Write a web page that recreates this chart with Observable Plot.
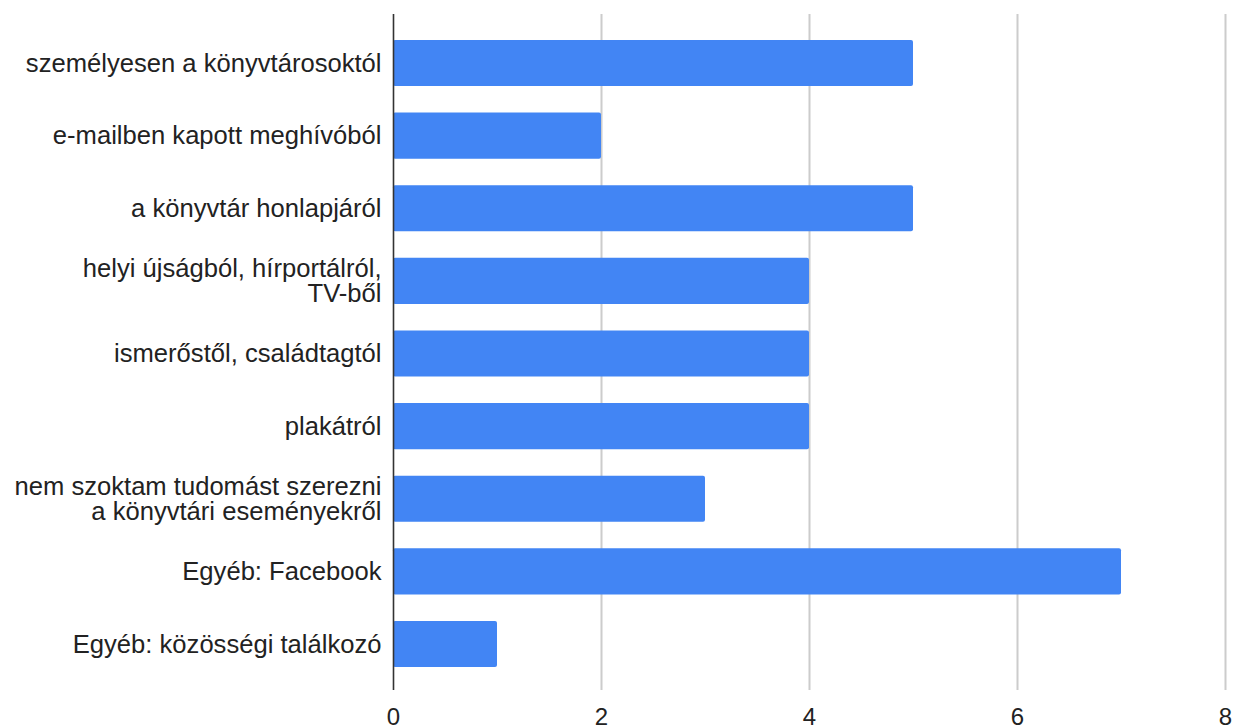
<!DOCTYPE html>
<html>
<head>
<meta charset="utf-8">
<script src="https://cdn.jsdelivr.net/npm/d3@7"></script>
<script src="https://cdn.jsdelivr.net/npm/@observablehq/plot@0.6"></script>
<style>
  html, body { margin: 0; padding: 0; background: #fff; }
  #chart svg { display: block; }
</style>
</head>
<body>
<div id="chart"></div>
<script>
const categories = [
  "személyesen a könyvtárosoktól",
  "e-mailben kapott meghívóból",
  "a könyvtár honlapjáról",
  "helyi újságból, hírportálról,\nTV-ből",
  "ismerőstől, családtagtól",
  "plakátról",
  "nem szoktam tudomást szerezni\na könyvtári eseményekről",
  "Egyéb: Facebook",
  "Egyéb: közösségi találkozó"
];
const values = [5, 2, 5, 4, 4, 4, 3, 7, 1];
const xTicks = [0, 2, 4, 6, 8];

const data = categories.map((c, i) => ({category: c, value: values[i]}));

const chart = Plot.plot({
  width: 1235,
  height: 726,
  marginLeft: 393,
  marginRight: 10,
  marginTop: 14,
  marginBottom: 36,
  style: {fontFamily: "'Liberation Sans', Arial, sans-serif", background: "#fff"},
  x: {domain: [0, 8], ticks: xTicks},
  y: {domain: categories, range: [26.7, 680.3], paddingInner: 0.366, paddingOuter: 0.183, round: false},
  marks: [
    Plot.gridX(xTicks.filter(d => d !== 0), {stroke: "#cccccc", strokeOpacity: 1, strokeWidth: 2}),
    Plot.barX(data, {x: "value", y: "category", fill: "#4285f4", rx: 2}),
    Plot.ruleX([0], {stroke: "#333333", strokeWidth: 1.6}),
    Plot.axisX({ticks: xTicks, tickSize: 0, tickPadding: 17, fontSize: 24, fill: "#222", label: null}),
    Plot.axisY({tickSize: 0, tickPadding: 12, fontSize: 25.6, fill: "#222", label: null, lineHeight: 1.0})
  ]
});
document.getElementById("chart").append(chart);
</script>
</body>
</html>
